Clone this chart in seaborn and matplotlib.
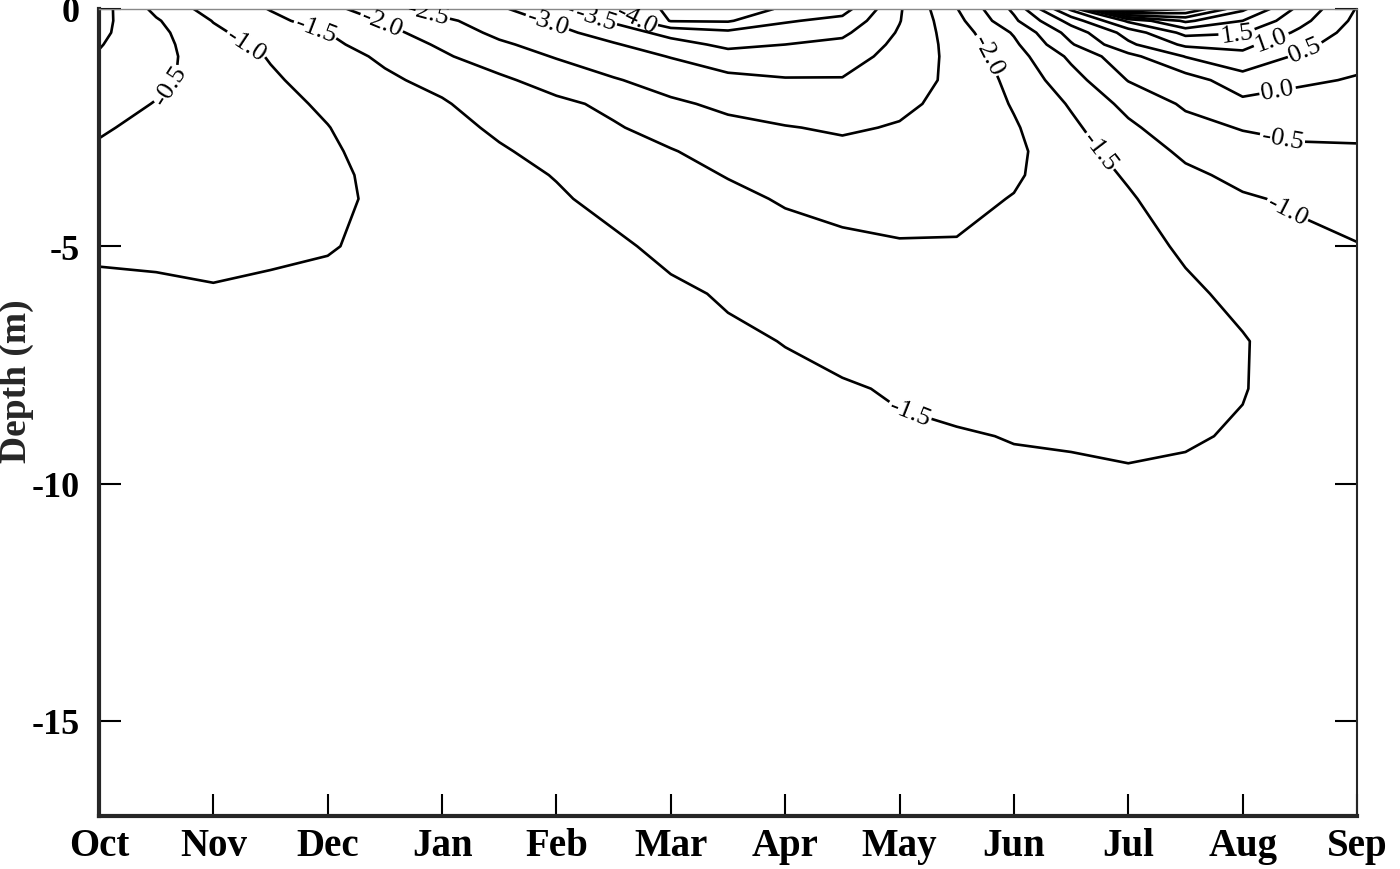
import numpy as np
import matplotlib
matplotlib.use("Agg")
import matplotlib.pyplot as plt
import seaborn as sns

# Ground temperature (deg C) section, Oct -> Sep
month_labels = ['Oct', 'Nov', 'Dec', 'Jan', 'Feb', 'Mar',
                'Apr', 'May', 'Jun', 'Jul', 'Aug', 'Sep']
month_pos = [0, 0.5, 1, 1.5, 2, 2.5, 3, 3.5, 4, 4.5, 5, 5.5,
             6, 6.5, 7, 7.5, 8, 8.5, 9, 9.5, 10, 10.5, 11]
depths = [0, 0.25, 0.5, 0.75, 1, 1.5, 2, 2.5, 3, 3.5, 4,
          5, 6, 7, 8, 9, 10, 11, 12, 14, 17]

# one temperature profile (top -> bottom) per entry of month_pos
temp_profiles = [
    [0.2, 0.15, 0.1, 0.03, -0.04, -0.17, -0.31, -0.45, -0.56, -0.66, -0.75, -0.94, -1.08, -1.17, -1.22, -1.25, -1.27, -1.28, -1.29, -1.3, -1.3],
    [-0.62, -0.45, -0.37, -0.35, -0.35, -0.4, -0.52, -0.62, -0.7, -0.77, -0.83, -0.94, -1.05, -1.14, -1.2, -1.24, -1.27, -1.29, -1.3, -1.32, -1.33],
    [-1.2, -1.02, -0.9, -0.8, -0.74, -0.69, -0.68, -0.68, -0.7, -0.74, -0.8, -0.9, -1.03, -1.12, -1.19, -1.23, -1.26, -1.28, -1.3, -1.32, -1.33],
    [-1.52, -1.4, -1.27, -1.15, -1.03, -0.94, -0.88, -0.85, -0.84, -0.85, -0.88, -0.94, -1.06, -1.14, -1.2, -1.24, -1.27, -1.29, -1.31, -1.33, -1.34],
    [-1.85, -1.68, -1.5, -1.4, -1.3, -1.18, -1.06, -0.99, -0.95, -0.93, -0.93, -0.98, -1.08, -1.16, -1.21, -1.25, -1.28, -1.3, -1.32, -1.34, -1.35],
    [-2.3, -2.04, -1.86, -1.72, -1.58, -1.42, -1.3, -1.2, -1.13, -1.08, -1.06, -1.07, -1.12, -1.18, -1.23, -1.26, -1.29, -1.31, -1.33, -1.35, -1.36],
    [-2.7, -2.4, -2.25, -2.07, -1.93, -1.64, -1.45, -1.34, -1.25, -1.19, -1.15, -1.12, -1.15, -1.2, -1.24, -1.27, -1.3, -1.32, -1.34, -1.36, -1.36],
    [-2.92, -2.75, -2.6, -2.43, -2.28, -1.9, -1.75, -1.58, -1.45, -1.37, -1.3, -1.2, -1.2, -1.22, -1.26, -1.29, -1.31, -1.33, -1.35, -1.36, -1.37],
    [-3.4, -3.08, -2.85, -2.68, -2.53, -2.23, -1.88, -1.77, -1.65, -1.52, -1.45, -1.32, -1.26, -1.25, -1.27, -1.3, -1.32, -1.34, -1.35, -1.37, -1.37],
    [-3.85, -3.57, -3.25, -2.95, -2.8, -2.46, -2.12, -1.95, -1.83, -1.72, -1.62, -1.43, -1.33, -1.29, -1.29, -1.31, -1.33, -1.35, -1.36, -1.37, -1.38],
    [-4.65, -4.53, -3.65, -3.33, -3.02, -2.7, -2.42, -2.2, -1.97, -1.86, -1.76, -1.6, -1.43, -1.35, -1.32, -1.33, -1.34, -1.36, -1.37, -1.38, -1.38],
    [-4.7, -4.55, -3.88, -3.6, -3.33, -2.85, -2.6, -2.38, -2.2, -2.02, -1.9, -1.72, -1.54, -1.44, -1.38, -1.36, -1.36, -1.37, -1.38, -1.39, -1.39],
    [-4.45, -4.05, -3.75, -3.5, -3.33, -2.96, -2.7, -2.48, -2.35, -2.22, -2.04, -1.84, -1.66, -1.51, -1.43, -1.39, -1.38, -1.38, -1.39, -1.39, -1.4],
    [-4.2, -3.86, -3.6, -3.38, -3.22, -2.97, -2.76, -2.55, -2.4, -2.28, -2.15, -1.9, -1.75, -1.6, -1.47, -1.42, -1.4, -1.39, -1.4, -1.4, -1.4],
    [-3.05, -3.02, -2.95, -2.88, -2.82, -2.7, -2.58, -2.47, -2.38, -2.3, -2.2, -1.96, -1.82, -1.68, -1.53, -1.46, -1.42, -1.41, -1.41, -1.41, -1.41],
    [-2.02, -2.15, -2.25, -2.32, -2.36, -2.4, -2.38, -2.34, -2.28, -2.2, -2.12, -1.97, -1.83, -1.7, -1.58, -1.48, -1.43, -1.42, -1.42, -1.42, -1.42],
    [-0.9, -1.1, -1.45, -1.6, -1.72, -1.86, -1.96, -2.05, -2.1, -2.06, -1.98, -1.88, -1.78, -1.68, -1.6, -1.51, -1.45, -1.43, -1.42, -1.42, -1.42],
    [1.1, 0.2, -0.3, -0.55, -0.9, -1.2, -1.45, -1.6, -1.7, -1.75, -1.79, -1.8, -1.76, -1.7, -1.62, -1.52, -1.46, -1.43, -1.42, -1.42, -1.42],
    [4.6, 1.6, 0.7, 0.4, -0.15, -0.48, -0.85, -1.1, -1.3, -1.45, -1.55, -1.63, -1.67, -1.67, -1.64, -1.54, -1.47, -1.44, -1.42, -1.41, -1.41],
    [4.0, 2.6, 1.65, 1.1, 0.52, -0.22, -0.43, -0.66, -0.9, -1.1, -1.24, -1.45, -1.56, -1.6, -1.6, -1.52, -1.46, -1.43, -1.42, -1.41, -1.41],
    [2.6, 2.0, 1.53, 1.12, 0.88, 0.28, -0.12, -0.47, -0.7, -0.88, -1.05, -1.27, -1.42, -1.52, -1.51, -1.48, -1.45, -1.43, -1.42, -1.41, -1.41],
    [1.35, 1.15, 0.9, 0.65, 0.42, 0.06, -0.15, -0.4, -0.57, -0.73, -0.93, -1.12, -1.27, -1.36, -1.41, -1.43, -1.43, -1.43, -1.42, -1.41, -1.41],
    [0.47, 0.38, 0.28, 0.19, 0.11, -0.03, -0.22, -0.4, -0.55, -0.67, -0.8, -1.02, -1.18, -1.28, -1.34, -1.37, -1.39, -1.4, -1.4, -1.4, -1.4],
]

contour_levels = np.arange(-4.5, 4.51, 0.5)
depth_ticks = [0, -5, -10, -15]

# where the inline contour labels sit (month, -depth)
label_spots = [(0.62, -1.6), (1.3, -0.7), (1.9, -0.38), (2.45, -0.42),
               (2.85, -0.3), (3.9, -0.45), (4.35, -0.1), (4.7, -0.2),
               (7.75, -1.0), (8.75, -3.0), (7.1, -8.4),
               (10.4, -4.2), (10.35, -2.7), (10.3, -1.65), (10.55, -0.9),
               (10.25, -0.65), (9.95, -0.55)]

sns.set_theme(style="ticks")
plt.rcParams['font.family'] = ['Liberation Serif', 'DejaVu Serif']
plt.rcParams['axes.unicode_minus'] = False
plt.rcParams['contour.negative_linestyle'] = 'solid'

X, Y = np.meshgrid(month_pos, -np.array(depths))
Z = np.array(temp_profiles).T

fig = plt.figure(figsize=(14, 8.7), dpi=100)
ax = fig.add_axes([0.0707, 0.061, 0.8986, 0.9276])

cs = ax.contour(X, Y, Z, levels=contour_levels, colors='black',
                linewidths=1.9, linestyles='solid')
ax.clabel(cs, fmt='%.1f', fontsize=19, inline=True, inline_spacing=2,
          manual=label_spots)

ax.set_xlim(0, 11)
ax.set_ylim(-17, 0)
ax.set_xticks(range(len(month_labels)))
ax.set_xticklabels(month_labels, fontsize=28, fontweight='bold')
ax.set_yticks(depth_ticks)
ax.set_yticklabels([str(d) for d in depth_ticks], fontsize=26, fontweight='bold')
ax.set_ylabel('Depth (m)', fontsize=27, fontweight='bold')
ax.yaxis.set_label_coords(-0.052, 0.54)

ax.tick_params(axis='both', direction='in', length=16, width=1.5, colors='black',
               top=False, right=True)
ax.tick_params(axis='x', pad=8)
ax.tick_params(axis='y', pad=14)
ax.spines['left'].set_linewidth(3)
ax.spines['bottom'].set_linewidth(3)
ax.spines['right'].set_linewidth(1.5)
ax.spines['top'].set_linewidth(1)
ax.spines['top'].set_color('#888888')

fig.savefig('out.png', dpi=100)
